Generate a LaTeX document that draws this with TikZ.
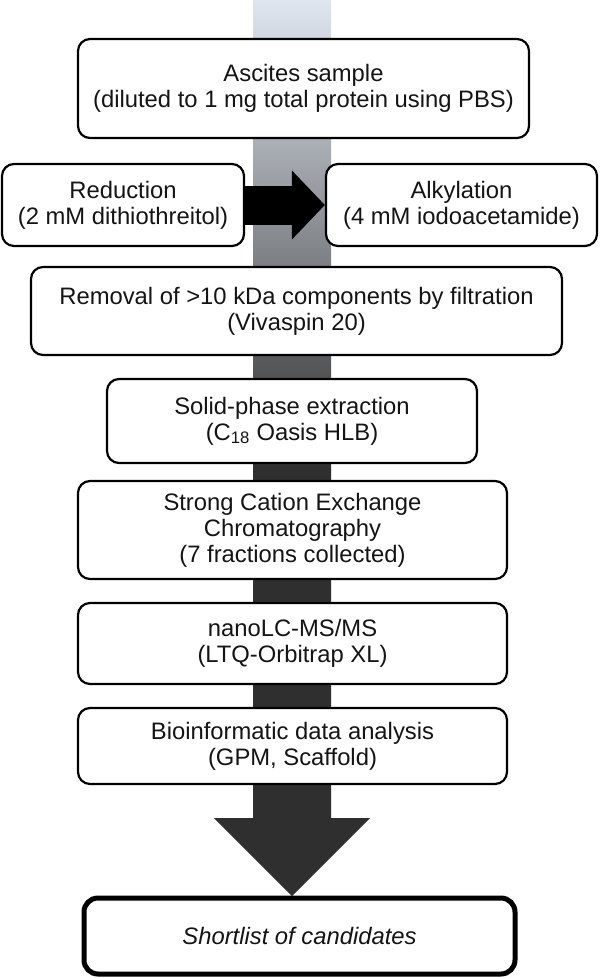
\documentclass[tikz,border=0pt]{standalone}
\usepackage{fontspec}
\setmainfont{Liberation Sans}
\usetikzlibrary{arrows.meta,backgrounds}
\definecolor{barTop}{HTML}{E0E6F0}
\definecolor{barDark}{HTML}{2F2F2F}
\definecolor{txt}{HTML}{141414}
\begin{document}
\begin{tikzpicture}[x=1pt,y=-1pt,
  box/.style={draw=black, line width=2.2pt, rounded corners=12pt, fill=white,
    align=center, inner sep=0pt, text=txt,
    font=\fontsize{23.8pt}{26pt}\selectfont},
  finalbox/.style={box, line width=5pt, rounded corners=14pt},
  bigfill/.style={fill=barDark, draw=none}]
\useasboundingbox (0,0) rectangle (600,978);
\node[box, minimum width=451pt, minimum height=99pt] (asc) at (303.5,88.5)
  {Ascites sample\\(diluted to 1 mg total protein using PBS)};
\node[box, minimum width=242pt, minimum height=82pt] (red) at (123,205)
  {Reduction\\(2 mM dithiothreitol)};
\node[box, minimum width=271pt, minimum height=82pt] (alk) at (461.5,205)
  {Alkylation\\(4 mM iodoacetamide)};
\node[box, minimum width=531pt, minimum height=88pt] (rem) at (296.5,311)
  {Removal of >10 kDa components by filtration\\(Vivaspin 20)};
\node[box, minimum width=370pt, minimum height=84pt] (spe) at (292,421)
  {Solid-phase extraction\\(C\textsubscript{18} Oasis HLB)};
\node[box, minimum width=429pt, minimum height=98pt] (scx) at (292.5,530)
  {Strong Cation Exchange\\Chromatography\\(7 fractions collected)};
\node[box, minimum width=429pt, minimum height=81pt] (nano) at (292.5,643.5)
  {nanoLC-MS/MS\\(LTQ-Orbitrap XL)};
\node[box, minimum width=429pt, minimum height=76pt] (bio) at (292.5,746)
  {Bioinformatic data analysis\\(GPM, Scaffold)};
\node[finalbox, minimum width=431pt, minimum height=76pt] (short) at (299.5,936)
  {\itshape Shortlist of candidates};
\coordinate (tip) at (292,896);
\draw[line width=39pt, draw=black, -{Triangle[length=33pt,width=67pt]}]
  (red.east) -- (alk.west);
\begin{pgfonlayer}{background}
\fill[white] (0,0) rectangle (600,978);
\shade[top color=barTop, bottom color=barDark] (253,0) rectangle (331,470);
\path[bigfill] (253,469.5) -- (331,469.5) -- (331,818) -- (370,818) -- (tip)
  -- (214,818) -- (253,818) -- cycle;
\end{pgfonlayer}
\end{tikzpicture}
\end{document}
